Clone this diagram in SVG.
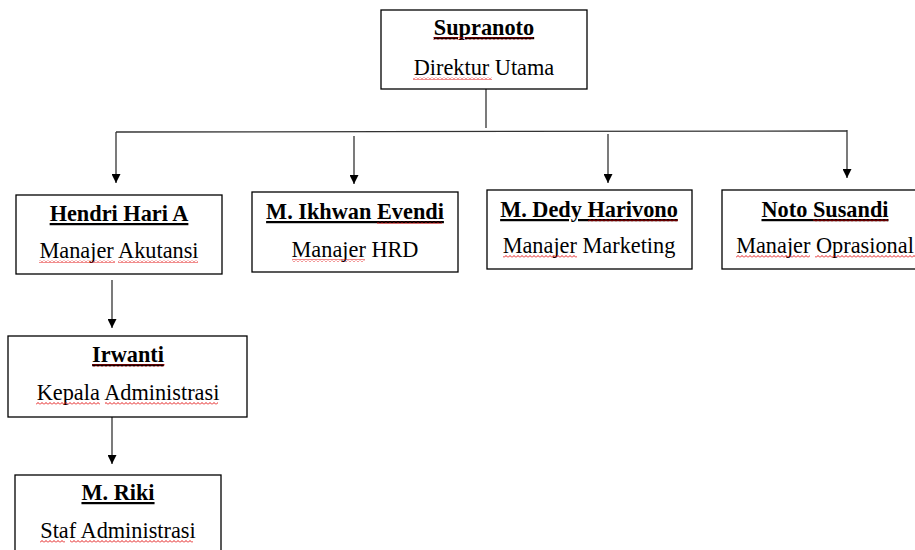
<svg xmlns="http://www.w3.org/2000/svg" width="915" height="550" viewBox="0 0 915 550">
<style>
.box{fill:#fff;stroke:#000;stroke-width:1.3}
.name{font-family:"Liberation Serif","Times New Roman",serif;font-size:22.3px;font-weight:bold;text-anchor:middle;text-decoration:underline;fill:#000}
.role{font-family:"Liberation Serif","Times New Roman",serif;font-size:22.3px;text-anchor:middle;fill:#000}
.sq{fill:url(#wave)}
.conn{stroke:#333;stroke-width:1.3;fill:none}
</style>
<defs>
<pattern id="wave" patternUnits="userSpaceOnUse" width="4" height="3">
<path d="M0 2.5 L2 0.5 L4 2.5" stroke="#e00000" stroke-width="0.9" fill="none"/>
</pattern>
<marker id="arr" viewBox="0 0 10 10" refX="10" refY="5" markerWidth="9" markerHeight="9" markerUnits="userSpaceOnUse" orient="auto">
<path d="M0 0 L10 5 L0 10 Z" fill="#000"/>
</marker>
</defs>
<g id="connectors">
<line class="conn" x1="486" y1="89" x2="486" y2="128"/>
<line class="conn" x1="116" y1="132" x2="847" y2="131"/>
<line class="conn" x1="116" y1="132" x2="116" y2="183" marker-end="url(#arr)"/>
<line class="conn" x1="354" y1="136" x2="354" y2="184" marker-end="url(#arr)"/>
<line class="conn" x1="608" y1="134" x2="608" y2="183" marker-end="url(#arr)"/>
<line class="conn" x1="847" y1="130" x2="847" y2="178" marker-end="url(#arr)"/>
<line class="conn" x1="112" y1="280" x2="112" y2="328" marker-end="url(#arr)"/>
<line class="conn" x1="112" y1="417" x2="112" y2="464" marker-end="url(#arr)"/>
</g>
<g id="supranoto">
<rect class="box" x="381" y="10" width="206" height="79"/>
<text class="name" x="484" y="35">Supranoto</text>
<text class="role" x="484" y="75">Direktur Utama</text>
<rect class="sq" x="433" y="37" width="100" height="3"/>
<rect class="sq" x="413" y="77" width="79" height="3"/>
</g>
<g id="hendri">
<rect class="box" x="16" y="195" width="206" height="79"/>
<text class="name" x="119" y="221">Hendri Hari A</text>
<text class="role" x="119" y="258">Manajer Akutansi</text>
<rect class="sq" x="39" y="260" width="76" height="3"/>
<rect class="sq" x="118" y="260" width="80" height="3"/>
</g>
<g id="ikhwan">
<rect class="box" x="252" y="192" width="206" height="80"/>
<text class="name" x="355" y="219">M. Ikhwan Evendi</text>
<text class="role" x="355" y="257">Manajer HRD</text>
<rect class="sq" x="377" y="221" width="65" height="3"/>
<rect class="sq" x="292" y="259" width="73" height="3"/>
</g>
<g id="dedy">
<rect class="box" x="487" y="190" width="205" height="79"/>
<text class="name" x="589" y="217">M. Dedy Harivono</text>
<text class="role" x="589" y="253">Manajer Marketing</text>
<rect class="sq" x="588" y="219" width="90" height="3"/>
<rect class="sq" x="503" y="255" width="74" height="3"/>
</g>
<g id="noto">
<rect class="box" x="722" y="190" width="210" height="79"/>
<text class="name" x="825" y="217">Noto Susandi</text>
<text class="role" x="825" y="253">Manajer Oprasional</text>
<rect class="sq" x="813" y="219" width="75" height="3"/>
<rect class="sq" x="736" y="255" width="74" height="3"/>
<rect class="sq" x="815" y="255" width="100" height="3"/>
</g>
<g id="irwanti">
<rect class="box" x="8" y="336" width="239" height="81"/>
<text class="name" x="128" y="362">Irwanti</text>
<text class="role" x="128" y="400">Kepala Administrasi</text>
<rect class="sq" x="92" y="364" width="73" height="3"/>
<rect class="sq" x="36" y="402" width="64" height="3"/>
<rect class="sq" x="105" y="402" width="113" height="3"/>
</g>
<g id="riki">
<rect class="box" x="15" y="475" width="206" height="90"/>
<text class="name" x="118" y="500">M. Riki</text>
<text class="role" x="118" y="538">Staf Administrasi</text>
<rect class="sq" x="40" y="540" width="25" height="3"/>
<rect class="sq" x="70" y="540" width="123" height="3"/>
</g>
</svg>
